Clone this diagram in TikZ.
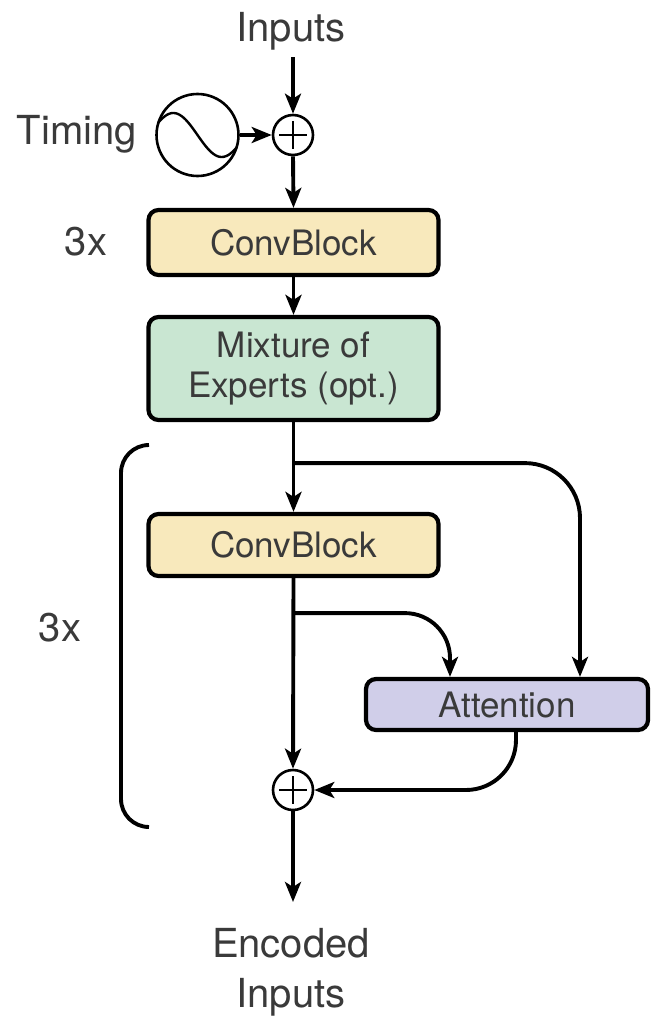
\documentclass[tikz,border=0pt]{standalone}
\usepackage{fontspec}
\setmainfont{TeX Gyre Heros}
\usetikzlibrary{arrows.meta,calc}
\definecolor{ink}{HTML}{3A3A3A}
\definecolor{convfill}{HTML}{F8E9BC}
\definecolor{moefill}{HTML}{C9E6D2}
\definecolor{attfill}{HTML}{D0CEE9}
\newcommand\blkfont{\fontsize{35}{40}\selectfont}
\newcommand\tagfont{\fontsize{40}{50}\selectfont}
\begin{document}
\begin{tikzpicture}[x=1pt,y=-1pt,
  wire/.style={line width=3.9pt},
  arr/.style={wire,-{Stealth[length=20pt,width=16pt,inset=5pt]}},
  block/.style={draw=black, line width=4.2pt, rounded corners=10pt,
    minimum width=290pt, inner sep=0pt, font=\blkfont, text=ink, align=center},
  tag/.style={font=\tagfont, text=ink, inner xsep=0pt, inner ysep=0pt},
  sum/.style={circle, draw, line width=2.6pt, minimum size=40pt, inner sep=0pt},
  plus/.style={line width=2pt}]
\useasboundingbox (0,0) rectangle (651,1016);

% labels
\node[tag, anchor=base, inner ysep=6.7pt] (in) at (291,41.7) {Inputs};
\node[tag, anchor=base east] (tm) at (137,145) {Timing};
\node[tag, anchor=base] (rep1) at (86,255) {3x};
\node[tag, anchor=base] (rep2) at (60,641) {3x};
\node[tag, anchor=north, align=center, inner ysep=26pt] (enc) at (291,902) {Encoded\\Inputs};

% timing signal: a circle holding one period of a sine wave
\node[circle, draw, line width=2.6pt, minimum size=82pt, inner sep=0pt] (tc) at (197.5,135) {};
\draw[line width=2.4pt] plot[domain=33:327, samples=60, smooth]
  ({158 + (\x-33)/294*79}, {135 - 22*sin(\x)});
\node[sum] (p1) at (293,135) {};
\draw[plus] (p1.center) ++(0,-14) -- ++(0,28) (p1.center) ++(-14,0) -- ++(28,0);

% blocks
\node[block, fill=convfill, minimum height=65pt] (cb1) at (293.5,242.5) {ConvBlock};
\node[block, fill=moefill, minimum height=103pt] (moe) at (293.5,368.5) {Mixture of\\Experts (opt.)};
\node[block, fill=convfill, minimum height=62pt] (cb2) at (293.5,545) {ConvBlock};
\node[block, fill=attfill, minimum height=51pt, minimum width=282pt] (att) at (507,704.5) {Attention};

% second sum
\node[sum] (p2) at (293,790) {};
\draw[plus] (p2.center) ++(0,-14) -- ++(0,28) (p2.center) ++(-14,0) -- ++(28,0);

% repeat bracket
\draw[wire, rounded corners=28pt] (149,445) -- (121,445) -- (121,827) -- (149,827);

% connectors
\draw[arr] (p1.north |- in.south) -- (p1.north);
\draw[arr] (tc.east) -- (p1.west);
\draw[arr] (p1.south) -- (cb1.north);
\draw[arr] (cb1.south) -- (moe.north);
\draw[arr] (moe.south) -- (cb2.north);
\coordinate (s1) at ($(moe.south) + (0,41)$);
\draw[arr, rounded corners=55pt] (s1) -| ([xshift=73pt]att.north);
\coordinate (s2) at ($(cb2.south) + (0,35)$);
\draw[arr, rounded corners=45pt] (s2) -| ([xshift=-57pt]att.north);
\draw[arr] (cb2.south) -- (p2.north);
\draw[arr, rounded corners=50pt] ([xshift=9pt]att.south) |- (p2.east);
\draw[arr] (p2.south) -- (p2.south |- enc.north);
\end{tikzpicture}
\end{document}
